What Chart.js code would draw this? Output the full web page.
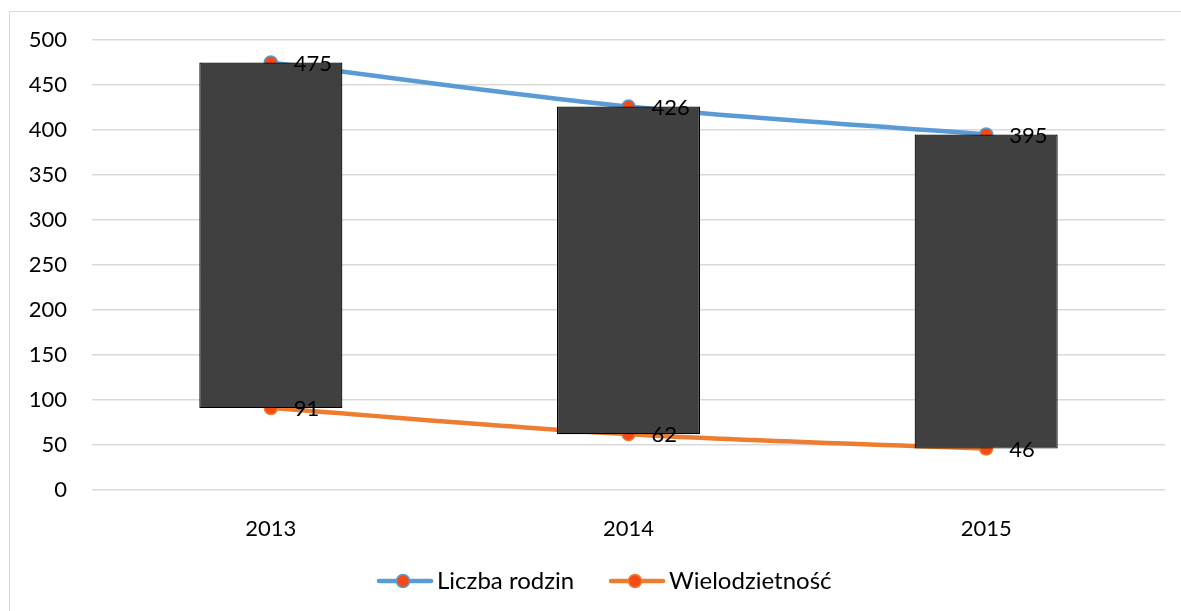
<!DOCTYPE html>
<html>
<head>
<meta charset="utf-8">
<script src="https://cdn.jsdelivr.net/npm/chart.js@4"></script>
<style>
  html, body { margin: 0; padding: 0; background: #fff; }
  #wrap { position: relative; width: 1181px; height: 611px; }
</style>
</head>
<body>
<div id="wrap"><canvas id="chart" width="1181" height="611"></canvas></div>
<script>
const years = ["2013", "2014", "2015"];
const liczbaRodzin = [475, 426, 395];
const wielodzietnosc = [91, 62, 46];
const seriesNames = ["Liczba rodzin", "Wielodzietność"];

const FONT = "Lato, 'Open Sans', sans-serif";
const BLUE = "#5b9bd5";
const ORANGE = "#ed7d31";
const MARKER = "#f44a14";

// outer frame + white background
const framePlugin = {
  id: "frame",
  beforeDraw(chart) {
    const ctx = chart.ctx;
    ctx.save();
    ctx.fillStyle = "#fff";
    ctx.fillRect(0, 0, chart.width, chart.height);
    ctx.strokeStyle = "#d9d9d9";
    ctx.lineWidth = 1;
    ctx.strokeRect(9.5, 11.5, chart.width + 10, chart.height + 10);
    ctx.restore();
  }
};

// values to the right of each point
const labelPlugin = {
  id: "pointLabels",
  afterDatasetsDraw(chart) {
    const ctx = chart.ctx;
    ctx.save();
    ctx.font = "22px " + FONT;
    ctx.fillStyle = "#000";
    ctx.textAlign = "left";
    ctx.textBaseline = "middle";
    chart.data.datasets.forEach((ds, di) => {
      if (ds.type !== "line") return;
      chart.getDatasetMeta(di).data.forEach((pt, i) => {
        ctx.fillText(String(ds.data[i]), pt.x + 23, pt.y + 1);
      });
    });
    ctx.restore();
  }
};

// legend with only the two lines
const legendPlugin = {
  id: "lineLegend",
  afterDraw(chart) {
    const ctx = chart.ctx;
    const items = [
      { text: seriesNames[0], color: BLUE, x: 377 },
      { text: seriesNames[1], color: ORANGE, x: 609 }
    ];
    const y = 581;
    ctx.save();
    items.forEach(it => {
      ctx.strokeStyle = it.color;
      ctx.lineWidth = 4.5;
      ctx.lineCap = "round";
      ctx.beginPath();
      ctx.moveTo(it.x + 2, y);
      ctx.lineTo(it.x + 54, y);
      ctx.stroke();
      ctx.beginPath();
      ctx.arc(it.x + 26, y, 6.5, 0, Math.PI * 2);
      ctx.fillStyle = MARKER;
      ctx.fill();
      ctx.lineWidth = 1.5;
      ctx.stroke();
      ctx.font = "24px " + FONT;
      ctx.fillStyle = "#000";
      ctx.textAlign = "left";
      ctx.textBaseline = "middle";
      ctx.fillText(it.text, it.x + 60, y);
    });
    ctx.restore();
  }
};

new Chart(document.getElementById("chart"), {
  data: {
    labels: years,
    datasets: [
      {
        type: "bar",
        label: "updown",
        data: years.map((_, i) => [wielodzietnosc[i], liczbaRodzin[i]]),
        backgroundColor: "#404040",
        borderColor: "#000",
        borderWidth: 1.2,
        borderSkipped: false,
        inflateAmount: 0,
        categoryPercentage: 1,
        barPercentage: 0.4,
        order: 1
      },
      {
        type: "line",
        label: seriesNames[0],
        data: liczbaRodzin,
        borderColor: BLUE,
        borderWidth: 4.5,
        tension: 0.35,
        pointRadius: 6.5,
        pointBackgroundColor: MARKER,
        pointBorderColor: BLUE,
        pointBorderWidth: 1.5,
        order: 2
      },
      {
        type: "line",
        label: seriesNames[1],
        data: wielodzietnosc,
        borderColor: ORANGE,
        borderWidth: 4.5,
        tension: 0.35,
        pointRadius: 6.5,
        pointBackgroundColor: MARKER,
        pointBorderColor: ORANGE,
        pointBorderWidth: 1.5,
        order: 3
      }
    ]
  },
  options: {
    responsive: false,
    animation: false,
    layout: { padding: { left: 0, top: 40, right: 16, bottom: 0 } },
    plugins: {
      legend: { display: false },
      tooltip: { enabled: false }
    },
    scales: {
      x: {
        grid: { display: false },
        border: { display: false },
        ticks: { color: "#000", font: { family: FONT, size: 22 }, padding: 18 },
        afterFit: s => { s.height = 121; }
      },
      y: {
        min: 0,
        max: 500,
        grid: { color: "#d9d9d9", lineWidth: 1.5, drawTicks: false },
        border: { display: false },
        ticks: { stepSize: 50, color: "#000", font: { family: FONT, size: 22 }, padding: 25 },
        afterFit: s => { s.width = 92; }
      }
    }
  },
  plugins: [framePlugin, labelPlugin, legendPlugin]
});
</script>
</body>
</html>
